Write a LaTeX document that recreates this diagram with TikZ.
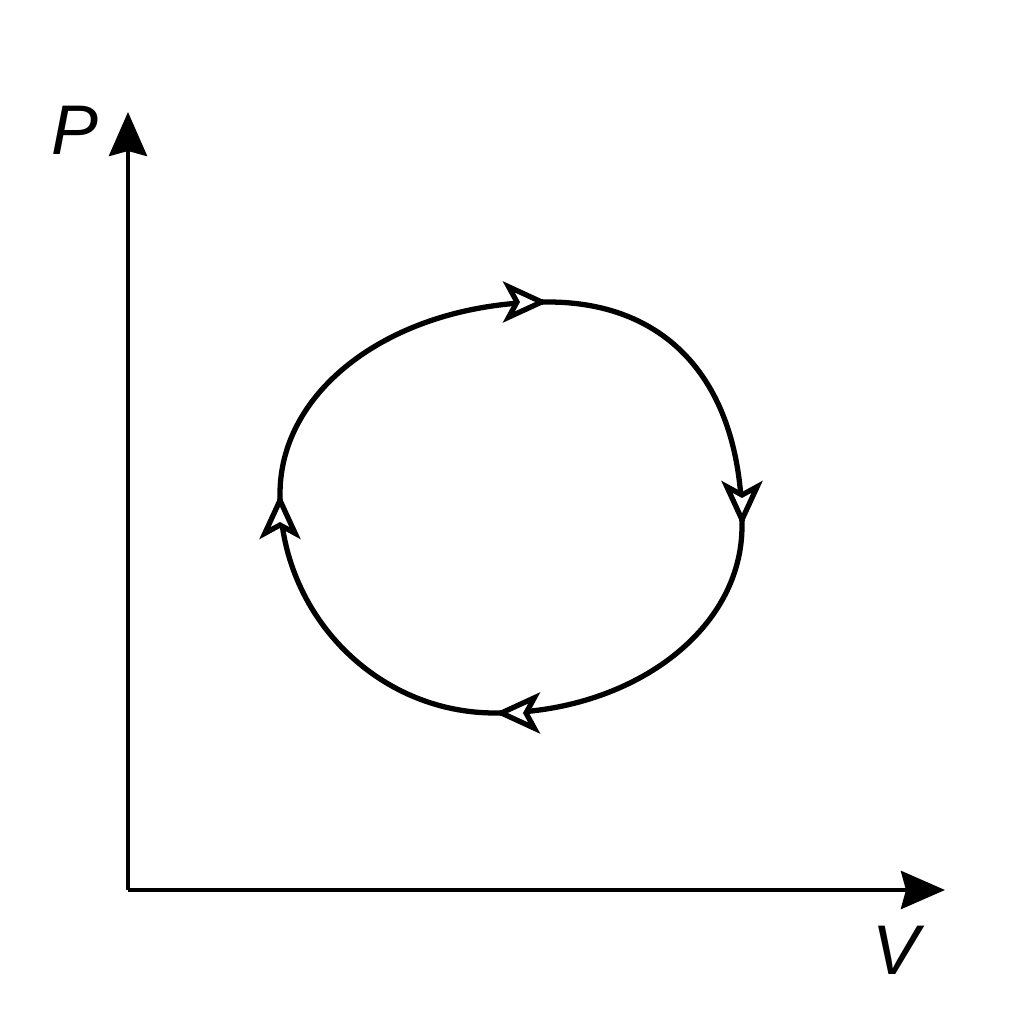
\documentclass[tikz,border=0pt]{standalone}
\usepackage{fontspec}
\setmainfont{Liberation Sans}
\usetikzlibrary{arrows.meta}

\tikzset{
  axis/.style={line width=1.3pt, -{Stealth[length=4.4mm, width=3.8mm, inset=0.5mm]}},
  loop/.style={line width=1.5pt},
  cycle/.style={loop, -{Stealth[open, fill=white, length=4.5mm, width=4.1mm, inset=1.1mm]}},
  axislabel/.style={font=\fontsize{20}{24}\selectfont\itshape}
}

\begin{document}
\begin{tikzpicture}
  \useasboundingbox (0,0) rectangle (10.24,10.24);
  % axes
  \coordinate (O) at (1.28,1.34);
  \coordinate (Ptop) at (1.28,9.12);
  \coordinate (Vend) at (9.45,1.34);
  \draw[axis] (O) -- (Ptop);
  \draw[axis] (O) -- (Vend);
  \node[axislabel] (P) at (0.75,8.94) {P};
  \node[axislabel] (V) at (8.96,0.74) {V};
  % cycle
  \coordinate (L) at (2.80,5.30);
  \coordinate (T) at (5.48,7.22);
  \coordinate (R) at (7.42,4.98);
  \coordinate (B) at (4.95,3.11);
  \draw[loop] (L) .. controls (2.80,6.38) and (3.98,7.22) .. (T)
    .. controls (6.70,7.22) and (7.42,6.39) .. (R)
    .. controls (7.42,3.93) and (6.31,3.11) .. (B)
    .. controls (3.77,3.11) and (2.80,4.09) .. (L) -- cycle;
  % arrow heads
  \draw[cycle] ([xshift=-0.5mm]T) -- (T);
  \draw[cycle] ([yshift=0.5mm]R) -- (R);
  \draw[cycle] ([xshift=0.5mm]B) -- (B);
  \draw[cycle] ([yshift=-0.5mm]L) -- (L);
\end{tikzpicture}
\end{document}
